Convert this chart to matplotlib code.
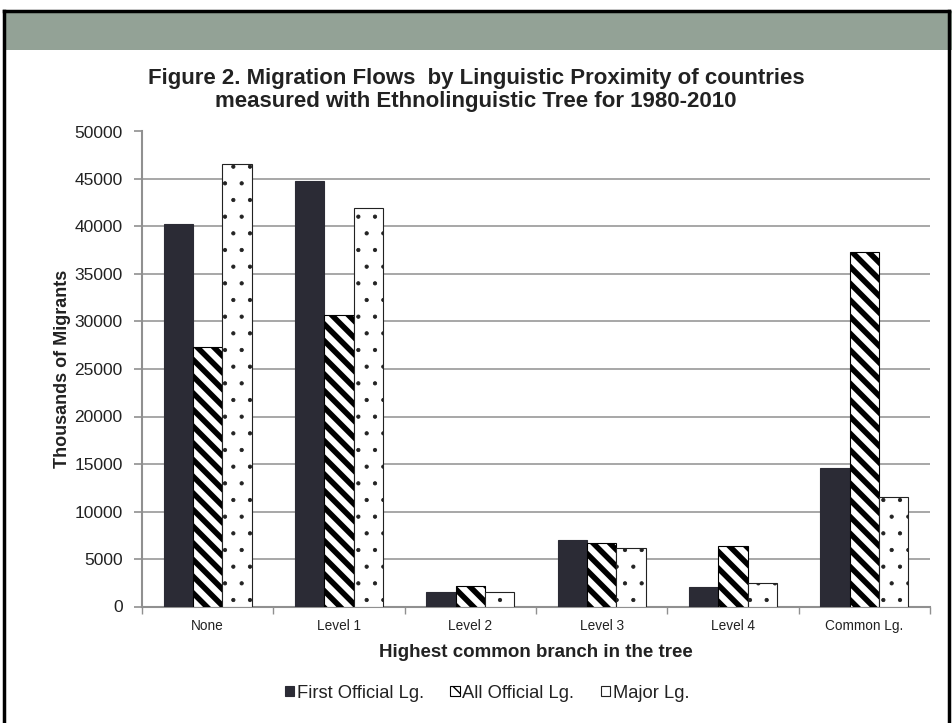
import matplotlib
matplotlib.use("Agg")
import matplotlib.pyplot as plt
import numpy as np
from matplotlib.patches import Rectangle
from matplotlib.lines import Line2D

plt.rcParams['font.family'] = ['Liberation Sans', 'DejaVu Sans']

categories = ["None", "Level 1", "Level 2", "Level 3", "Level 4", "Common Lg."]
series_names = ["First Official Lg.", "All Official Lg.", "Major Lg."]
first_official = [40250, 44750, 1550, 6950, 2070, 14600]
all_official = [27300, 30650, 2150, 6650, 6350, 37350]
major_lg = [46550, 41950, 1550, 6150, 2490, 11550]
yticks = list(range(0, 50001, 5000))

W, H = 952, 723
fig = plt.figure(figsize=(W / 100, H / 100), dpi=100)
fig.patch.set_facecolor("white")

# header band and frame
fig.add_artist(Rectangle((4 / W, 1 - 50 / H), 1 - 4 / W, 39 / H, transform=fig.transFigure,
                         facecolor="#93a296", edgecolor="none", zorder=0))
fig.add_artist(Line2D([4 / W, 4 / W], [0, 1 - 11 / H], transform=fig.transFigure, color="black", lw=2.5))
fig.add_artist(Line2D([4 / W, 949 / W], [1 - 11 / H, 1 - 11 / H], transform=fig.transFigure, color="black", lw=2.5))
fig.add_artist(Line2D([949 / W, 949 / W], [0, 1 - 11 / H], transform=fig.transFigure, color="black", lw=2.5))

ax = fig.add_axes([142 / W, 1 - 606.5 / H, (930 - 142) / W, (606.5 - 131.5) / H])

x = np.arange(len(categories))
bw = 0.223
dark = "#2b2b35"


def set_hlw(container, lw):
    for p in container:
        if hasattr(p, "set_hatch_linewidth"):
            p.set_hatch_linewidth(lw)


ax.bar(x - bw, first_official, bw, color=dark, edgecolor=dark, linewidth=0.8, zorder=3,
       label=series_names[0])
with plt.rc_context({'hatch.linewidth': 4.0}):
    b2 = ax.bar(x, all_official, bw, color="white", edgecolor="black", hatch="\\\\", linewidth=0.8,
                zorder=3, label=series_names[1])
set_hlw(b2, 4.0)
with plt.rc_context({'hatch.linewidth': 0.6}):
    b3 = ax.bar(x + bw, major_lg, bw, color="white", edgecolor="#222222", hatch=".", linewidth=0.8,
                zorder=3, label=series_names[2])
set_hlw(b3, 0.6)

ax.set_xlim(-0.5, len(categories) - 0.5)
ax.set_ylim(0, 50000)
ax.set_yticks(yticks)
ax.set_yticklabels([str(v) for v in yticks], fontsize=12.5, color="#222222")
ax.yaxis.grid(True, color="#a0a0a0", linewidth=1.3, zorder=0)
ax.set_axisbelow(True)

ax.set_xticks(np.arange(-0.5, len(categories), 1.0))
ax.set_xticklabels([])
ax.set_xticks(x, minor=True)
ax.set_xticklabels(categories, minor=True, fontsize=9.8, color="#222222")
ax.tick_params(axis="x", which="minor", length=0, pad=9)
ax.tick_params(axis="x", which="major", length=5, color="#909090", width=1)
ax.tick_params(axis="y", length=6, color="#909090", width=1.2, pad=8)

for s in ["top", "right"]:
    ax.spines[s].set_visible(False)
for s in ["left", "bottom"]:
    ax.spines[s].set_color("#909090")
    ax.spines[s].set_linewidth(1.5)

ax.set_xlabel("Highest common branch in the tree", fontsize=13.5, fontweight="bold",
              color="#222222", labelpad=8)
ax.set_ylabel("Thousands of Migrants", fontsize=13, fontweight="bold", color="#222222", labelpad=2)

fig.text(476 / W, 1 - 84 / H, "Figure 2. Migration Flows  by Linguistic Proximity of countries",
         ha="center", va="baseline", fontsize=16, fontweight="bold", color="#222222")
fig.text(476 / W, 1 - 107 / H, "measured with Ethnolinguistic Tree for 1980-2010",
         ha="center", va="baseline", fontsize=16, fontweight="bold", color="#222222")

leg = fig.legend(loc="center", bbox_to_anchor=(487 / W, 1 - 693 / H), ncol=3, frameon=False,
                 fontsize=13.2, handlelength=0.5, handleheight=0.5, handletextpad=0.15,
                 columnspacing=1.45, labelcolor="#222222")
for h in leg.legend_handles:
    h.set_linewidth(0.8)

fig.savefig("out.png", dpi=100)
